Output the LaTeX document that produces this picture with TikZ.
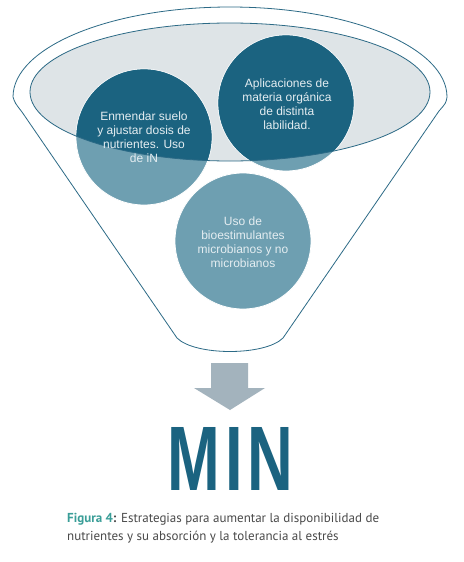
\documentclass[tikz,border=0pt]{standalone}
\usepackage{fontspec}
\usepackage{graphicx}
\setmainfont{Liberation Sans}
\newfontfamily\capfont{PT Sans}
\definecolor{darkteal}{HTML}{1B6380}
\definecolor{lightteal}{HTML}{6E9FB1}
\definecolor{ellfill}{HTML}{DEE4E7}
\definecolor{edge}{HTML}{2C6A86}
\definecolor{arrowgrey}{HTML}{A3B3BD}
\definecolor{captealc}{HTML}{3A9E98}
\definecolor{capgrey}{HTML}{4A4A4A}
\definecolor{txtwhite}{HTML}{E4EDF1}
\tikzset{
  outline/.style={draw=edge, line width=0.8pt},
  bubble/.style={circle, fill=lightteal, draw=white, line width=0.8pt, minimum size=136pt, inner sep=0pt},
  bubbletext/.style={align=center, text=txtwhite, font=\fontsize{12}{14}\selectfont, inner sep=0pt},
}
\begin{document}
\begin{tikzpicture}[x=1pt,y=-1pt]
\useasboundingbox (0,0) rectangle (463,562);
\fill[white] (0,0) rectangle (463,562);
% funnel outline
\draw[outline] (177,338) -- (22,112) .. controls (15,103) .. (13,97)
  arc[start angle=180,end angle=360,x radius=217,y radius=90]
  .. controls (446,103) .. (439,111) -- (283,338)
  .. controls (265,356) and (195,356) .. (177,338) -- cycle;
% inner ellipse fill
\fill[ellfill] (230,92) ellipse[x radius=200,y radius=69];
% circles (light)
\node[bubble] (c1) at (144,137) {};
\node[bubble] (c2) at (286,103) {};
\node[bubble] (c3) at (243,241) {};
% dark parts inside ellipse
\begin{scope}
  \clip (230,92) ellipse[x radius=200,y radius=69];
  \fill[darkteal] (c1.center) circle[radius=67.6];
  \fill[darkteal] (c2.center) circle[radius=67.6];
\end{scope}
\draw[outline] (230,92) ellipse[x radius=200,y radius=69];
% texts
\node[bubbletext] (t1) at (144,137) {Enmendar suelo\\y ajustar dosis de\\nutrientes. Uso\\de iN};
\node[bubbletext] (t2) at (287,104) {Aplicaciones de\\materia orgánica\\de distinta\\labilidad.};
\node[bubbletext] (t3) at (243,242) {Uso de\\bioestimulantes\\microbianos y no\\microbianos};
% arrow
\fill[arrowgrey] (211,363) -- (248,363) -- (248,388) -- (265,388) -- (230,410) -- (194,388) -- (211,388) -- cycle;
% MIN
\node[anchor=north, inner sep=0pt, text=darkteal] (min) at (228,427) {\resizebox{121pt}{63pt}{\bfseries\addfontfeature{LetterSpace=8}MIN\kern-0.08em}};
% caption
\node[anchor=north west, align=left, inner sep=0pt, text=capgrey, font=\capfont\fontsize{13}{18}\selectfont] (cap) at (67,513)
  {\textcolor{captealc}{\bfseries Figura 4}{\bfseries:} Estrategias para aumentar la disponibilidad de\\nutrientes y su absorción y la tolerancia al estrés};
\end{tikzpicture}
\end{document}
